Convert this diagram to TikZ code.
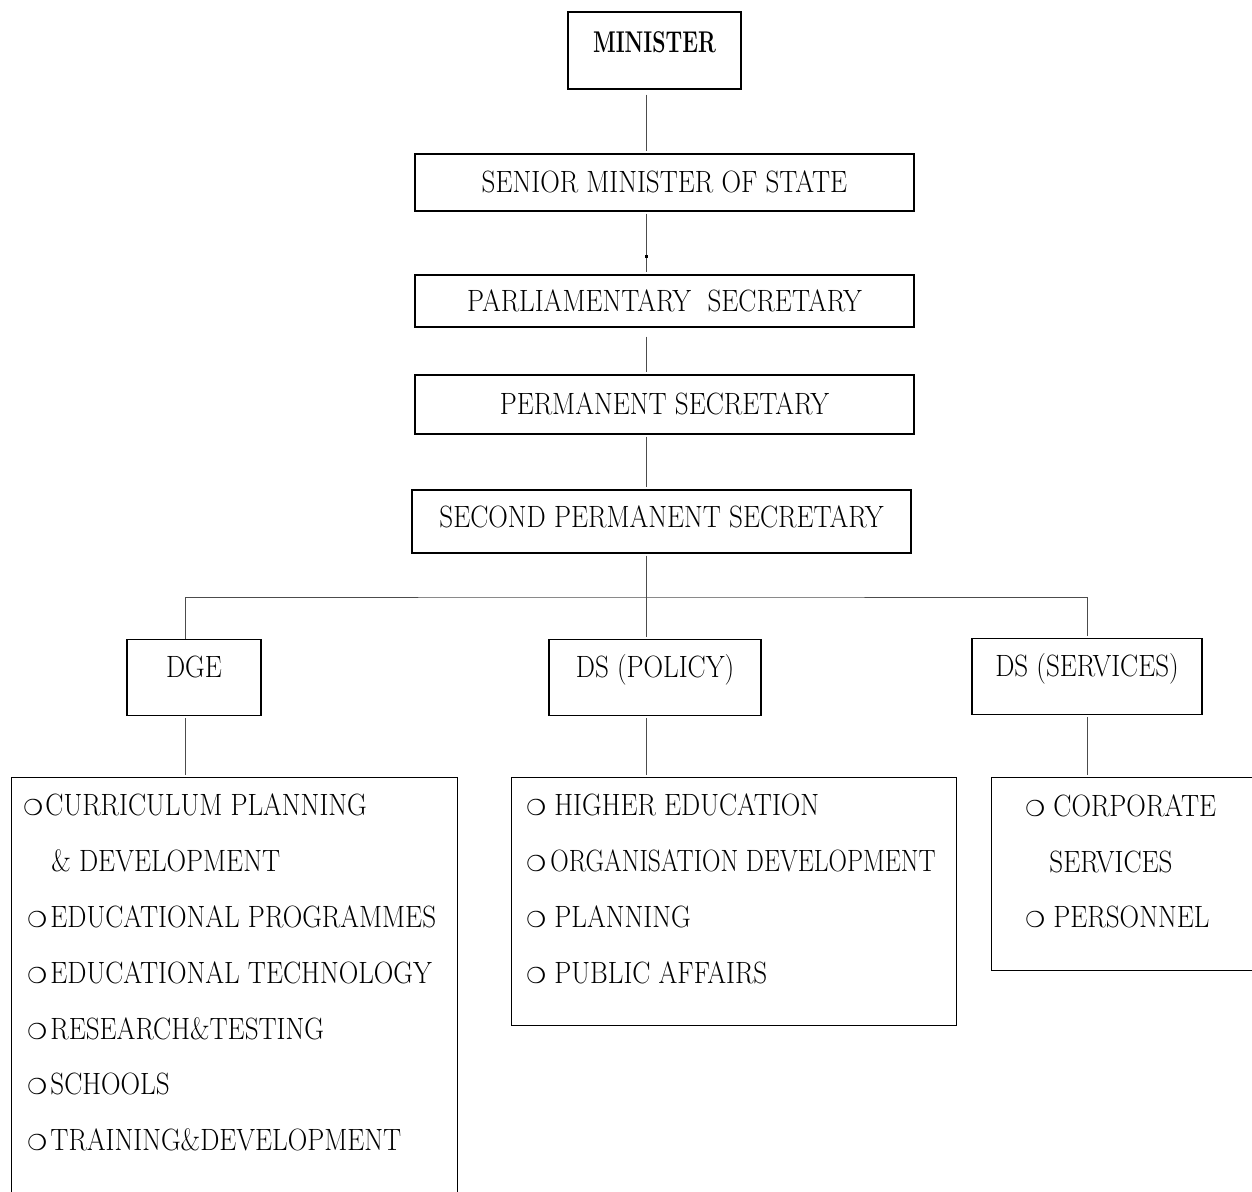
\documentclass[tikz,border=0pt]{standalone}
\usepackage{fontspec}
\setmainfont{Latin Modern Roman}[FakeStretch=0.88]
\newfontfamily\headfont{Latin Modern Roman}[FakeStretch=0.71]
\newfontfamily\symfont{DejaVu Sans}
\usetikzlibrary{positioning}
\newcommand{\bul}[1][11.5pt]{\makebox[#1][l]{\symfont\fontsize{11}{11}\selectfont ❍}}
\tikzset{
  post/.style = {draw, line width=0.7pt, inner sep=0pt, text height=10.5pt, text depth=0pt},
  head/.style = {post, anchor=north, text height=19pt, text depth=19pt},
  listbox/.style = {draw, line width=0.7pt, anchor=north west, inner sep=0pt},
  item/.style = {anchor=west, inner sep=0pt, text height=10.5pt, text depth=0pt},
  link/.style = {draw=black!70, line width=0.5pt, shorten <=1pt, shorten >=1pt}
}

\begin{document}
\begin{tikzpicture}[x=0.5pt, y=-0.5pt, font=\fontsize{15.4}{18}\selectfont]
        \useasboundingbox (0,0) rectangle (1252,1192);
        %Top chain
        \node [post, minimum width=86.5pt, minimum height=38.5pt, text height=20.25pt, text depth=18.25pt] (minister) at (654.5,50.5) {\headfont\bfseries\fontsize{15}{18}\selectfont MINISTER};
        \node [post, minimum width=249.5pt, minimum height=28.5pt] (senior) at (664.5,182.5) {SENIOR MINISTER OF STATE};
        \node [post, minimum width=249.5pt, minimum height=26pt] (parl) at (664.5,301) {PARLIAMENTARY\ \ SECRETARY};
        \node [post, minimum width=249.5pt, minimum height=29.5pt] (perm) at (664.5,404.5) {PERMANENT SECRETARY};
        \node [post, minimum width=249.5pt, text height=18.75pt, text depth=12.75pt] (second) at (661.5,521.5) {SECOND PERMANENT SECRETARY};
        %Directorates
        \node [head, minimum width=67pt] (dge) at (194,639) {DGE};
        \node [head, minimum width=106pt] (policy) at (655,639) {DS (POLICY)};
        \node [head, minimum width=115pt] (services) at (1087,638) {DS (SERVICES)};
        %Lists
        \node [listbox, minimum width=223pt, minimum height=215pt] (dgelist) at (11,777) {};
        \node [listbox, minimum width=222.5pt, minimum height=124pt] (polist) at (511,777) {};
        \node [listbox, minimum width=140pt, minimum height=96.5pt] (servlist) at (991,777) {};
        \node [item] (dge1) at (23,805) {\bul[11pt]CURRICULUM PLANNING};
        \node [item] (dge1b) at (51,861) {\& DEVELOPMENT};
        \node [item] (dge2) at (27,917) {\bul EDUCATIONAL PROGRAMMES};
        \node [item] (dge3) at (27,973) {\bul EDUCATIONAL TECHNOLOGY};
        \node [item] (dge4) at (27,1029) {\bul RESEARCH\&TESTING};
        \node [item] (dge5) at (27,1084) {\bul SCHOOLS};
        \node [item] (dge6) at (27,1140) {\bul TRAINING\&DEVELOPMENT};
        \node [item] (po1) at (526,805) {\bul[14pt]HIGHER EDUCATION};
        \node [item] (po2) at (526,861) {\bul[12pt]\addfontfeature{FakeStretch=0.83}ORGANISATION DEVELOPMENT};
        \node [item] (po3) at (526,917) {\bul[14pt]PLANNING};
        \node [item] (po4) at (526,973) {\bul[14pt]PUBLIC AFFAIRS};
        \node [item] (se1) at (1025,806) {\bul[14pt]CORPORATE};
        \node [item] (se1b) at (1049,862) {SERVICES};
        \node [item] (se2) at (1025,917) {\bul[14pt]PERSONNEL};
        %Connectors
        \coordinate (spine) at (646,0);
        \coordinate (bar) at (646,597);
        \draw[link, shorten <=2.5pt] (spine |- minister.south) -- (spine |- senior.north);
        \draw[link] (spine |- senior.south) -- (spine |- parl.north);
        \fill (645,255) rectangle (647.5,258);
        \draw[link, shorten <=4.5pt] (spine |- parl.south) -- (spine |- perm.north);
        \draw[link] (spine |- perm.south) -- (spine |- second.north);
        \draw[link, shorten >=0pt] (spine |- second.south) -- (bar);
        \draw[link, shorten <=0pt] ([xshift=-4.5pt]dge.north) |- (bar) -| (services.north);
        \draw[link, shorten <=0pt] (bar) -- (spine |- policy.north);
        \draw[link] ([xshift=-4.5pt]dge.south) -- ([xshift=-4.5pt]dge.south |- dgelist.north);
        \draw[link] (spine |- policy.south) -- (spine |- polist.north);
        \draw[link] (services.south) -- (services.south |- servlist.north);
    \end{tikzpicture}
\end{document}
